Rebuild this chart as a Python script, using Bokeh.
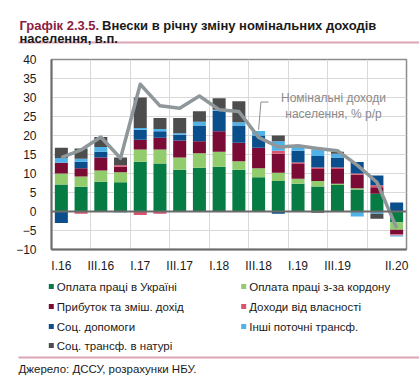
import numpy as np
from bokeh.plotting import figure
from bokeh.layouts import column
from bokeh.models import ColumnDataSource, FixedTicker, Label, Span, Range1d
from bokeh.embed import file_html
from bokeh.resources import INLINE

# ---------------- data ----------------
quarters = ["I.16", "II.16", "III.16", "IV.16", "I.17", "II.17", "III.17", "IV.17",
            "I.18", "II.18", "III.18", "IV.18", "I.19", "II.19", "III.19", "IV.19",
            "I.20", "II.20"]
shown_ticks = ["I.16", "III.16", "I.17", "III.17", "I.18", "III.18", "I.19", "III.19", "II.20"]

wages_ua = [7.1, 6.5, 7.8, 7.7, 13.1, 12.6, 11.0, 11.5, 11.8, 11.0, 9.0, 8.0, 7.3, 6.6, 7.0, 5.8, 4.7, -2.8]
wages_abroad = [2.9, 2.7, 3.0, 2.6, 3.2, 3.7, 3.2, 3.8, 3.9, 2.2, 2.4, 2.2, 1.3, 1.4, 0.3, 0.3, 0.0, -2.0]
profit_mixed = [2.8, 2.2, 3.4, 1.5, 2.6, 3.1, 4.5, 3.2, 5.4, 4.9, 5.4, 5.0, 3.9, 3.2, 3.9, 3.6, 1.7, -1.2]
property_inc = [0.0, -0.6, 0.0, 0.4, -0.9, -0.6, 0.0, 0.0, 0.0, 0.0, 0.0, 0.8, 0.4, 0.4, 0.4, 0.3, 0.5, -0.3]
social_benefits = [-3.0, 1.7, 1.5, -0.2, 2.6, 1.7, 1.5, 4.1, 5.4, 4.5, 3.2, -0.6, 3.1, 3.0, 2.6, 3.0, 2.6, 2.4]
other_transfers = [1.3, 0.8, 1.3, 0.0, 0.5, 0.6, 0.4, 1.0, 0.3, 0.9, 1.2, 2.5, 1.1, 1.8, 1.0, -1.3, -0.6, -0.3]
social_in_kind = [2.7, 2.7, 2.6, 2.0, 8.0, 2.9, 4.0, 2.8, 3.0, 5.5, 0.0, 1.5, 0.0, -0.3, 0.5, 0.0, -1.3, 0.0]
nominal_income_yoy = [14.2, 16.2, 19.6, 14.0, 33.5, 27.8, 27.2, 30.4, 26.8, 26.3, 19.5, 17.0,
                      17.3, 16.6, 16.0, 12.2, 7.7, -4.3]

series_names = ["Оплата праці в Україні", "Оплата праці з-за кордону",
                "Прибуток та зміш. дохід", "Доходи від власності",
                "Соц. допомоги", "Інші поточні трансф.", "Соц. трансф. в натурі"]
series_values = [wages_ua, wages_abroad, profit_mixed, property_inc,
                 social_benefits, other_transfers, social_in_kind]
series_colors = ["#067B43", "#92CC6C", "#7A0B35", "#D9546E", "#0A4F8C", "#4FB2E8", "#4D4D4D"]

FONT = "Liberation Sans"
TXT = "#1a1a1a"
PINK = "#DDA5B3"
W = 419


def blank(h):
    f = figure(width=W, height=h, x_range=Range1d(0, W), y_range=Range1d(h, 0),
               x_axis_type=None, y_axis_type=None, output_backend="svg",
               toolbar_location=None, min_border=0, frame_align=False)
    f.outline_line_color = None
    f.background_fill_color = "white"
    f.border_fill_color = "white"
    return f


# ---------------- title panel ----------------
top = blank(53)
top.add_layout(Label(x=19, y=25, text="Графік 2.3.5.", text_font=FONT,
                     text_font_size="13px", text_font_style="bold",
                     text_color="#8B1D41", text_baseline="alphabetic"))
top.add_layout(Label(x=101.5, y=25, text="Внески в річну зміну номінальних доходів",
                     text_font=FONT, text_font_size="13px", text_font_style="bold",
                     text_color=TXT, text_baseline="alphabetic"))
top.add_layout(Label(x=19, y=38, text="населення, в.п.", text_font=FONT,
                     text_font_size="13px", text_font_style="bold",
                     text_color=TXT, text_baseline="alphabetic"))
top.quad(left=[18], right=[W], top=[41], bottom=[43], fill_color=PINK, line_color=None)

# ---------------- main chart ----------------
n = len(quarters)
xc = np.arange(n) + 0.5

p = figure(width=W, height=222, x_range=(0, n), y_range=(-10, 40),
           output_backend="svg", toolbar_location=None, frame_align=False,
           min_border_left=51, min_border_right=13, min_border_top=6, min_border_bottom=23)
p.background_fill_color = "white"
p.border_fill_color = "white"
p.outline_line_color = "#8c8c8c"
p.outline_line_width = 1.5

pos_base = np.zeros(n)
neg_base = np.zeros(n)
for vals, col in zip(series_values, series_colors):
    v = np.array(vals, dtype=float)
    bottom = np.where(v >= 0, pos_base, neg_base)
    tops = bottom + v
    pos_base = np.where(v >= 0, tops, pos_base)
    neg_base = np.where(v < 0, tops, neg_base)
    src = ColumnDataSource(dict(x=xc, bottom=bottom, top=tops))
    p.vbar(x="x", bottom="bottom", top="top", width=0.66, source=src,
           fill_color=col, line_color=None)

p.add_layout(Span(location=0, dimension="width", line_color="#6b6b6b", line_width=2))

p.line(xc, nominal_income_yoy, line_color="#8F979B", line_width=3.5, line_join="round")

# leader line for the annotation, attached near the line at III.18
k = quarters.index("III.18")
p.line([xc[k], xc[k] + 0.12, xc[k] + 0.5],
       [nominal_income_yoy[k] + 2.0, 28.8, 28.8], line_color="#8c8c8c", line_width=1)

tick_pos = [xc[quarters.index(t)] for t in shown_ticks]
p.xaxis.ticker = FixedTicker(ticks=tick_pos)
p.xaxis.major_label_overrides = {float(tp): t for tp, t in zip(tick_pos, shown_ticks)}
p.yaxis.ticker = FixedTicker(ticks=list(range(-10, 41, 5)))
for ax in (p.xaxis, p.yaxis):
    ax.axis_line_color = "#6b6b6b"
    ax.axis_line_width = 2
    ax.major_tick_line_color = None
    ax.minor_tick_line_color = None
    ax.major_label_text_font = FONT
    ax.major_label_text_font_size = "12px"
    ax.major_label_text_color = TXT
p.xaxis.major_label_standoff = 3
p.yaxis.major_label_standoff = 9

p.xgrid.ticker = FixedTicker(ticks=list(range(2, n, 2)))
p.xgrid.grid_line_color = "#d9d9d9"
p.ygrid.grid_line_color = "#d9d9d9"

for txt, yy in (("Номінальні доходи", 152), ("населення, % р/р", 136)):
    p.add_layout(Label(x=282, y=yy, x_units="screen", y_units="screen", text=txt,
                       text_font=FONT, text_font_size="12px", text_color="#8a8a8a",
                       text_align="center", text_baseline="alphabetic"))

# ---------------- legend / source panel ----------------
bot = blank(105)
rows_y = [11, 31, 51, 70]
cols_x = [48.3, 240.7]
for i, (name, col) in enumerate(zip(series_names, series_colors)):
    r, c = divmod(i, 2)
    sx, sy = cols_x[c], rows_y[r]
    bot.quad(left=[sx], right=[sx + 5], top=[sy - 2.5], bottom=[sy + 2.5],
             fill_color=col, line_color=None)
    bot.add_layout(Label(x=sx + 8, y=sy, text=name, text_font=FONT,
                         text_font_size="11.5px", text_color=TXT, text_baseline="middle"))
bot.quad(left=[18], right=[W], top=[81], bottom=[83], fill_color=PINK, line_color=None)
bot.add_layout(Label(x=18, y=93, text="Джерело: ДССУ, розрахунки НБУ.", text_font=FONT,
                     text_font_size="11.5px", text_color=TXT, text_baseline="middle"))

layout = column(top, p, bot, spacing=0)
open("out.html", "w").write(file_html(layout, INLINE))
